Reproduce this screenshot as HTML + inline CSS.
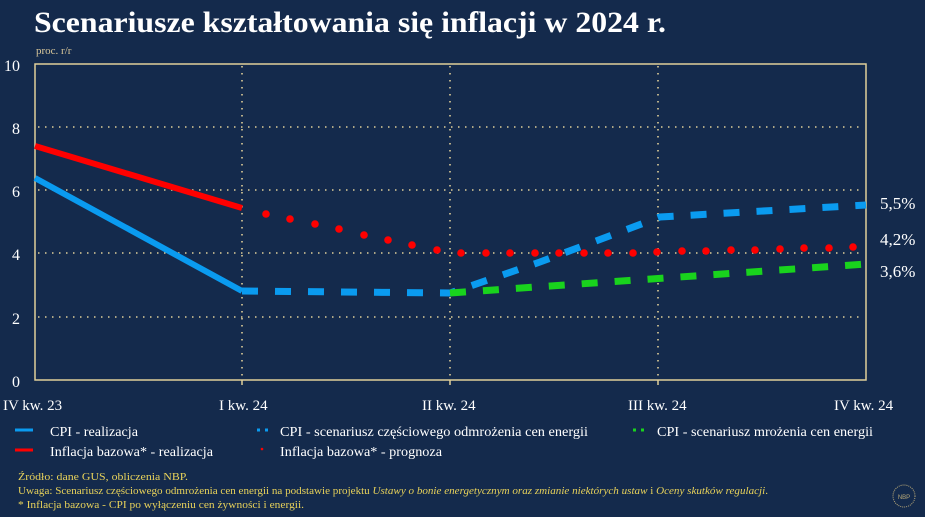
<!DOCTYPE html>
<html><head><meta charset="utf-8"><style>
body{margin:0;width:925px;height:517px;background:#142a4c;overflow:hidden;font-family:"Liberation Serif",serif;}
svg{position:absolute;left:0;top:0}
</style></head><body>
<svg width="925" height="517" xmlns="http://www.w3.org/2000/svg">
<text x="34" y="32" fill="#fff" font-size="30" font-weight="bold" font-family="Liberation Serif" textLength="632" lengthAdjust="spacingAndGlyphs">Scenariusze kształtowania się inflacji w 2024 r.</text>
<text x="36" y="54" fill="#d9c79a" font-size="11">proc. r/r</text>
<g fill="#fff" font-size="16" text-anchor="end">
<text x="20" y="71">10</text><text x="20" y="134">8</text><text x="20" y="197">6</text><text x="20" y="260">4</text><text x="20" y="324">2</text><text x="20" y="387">0</text>
</g>
<g stroke="#e0cf9a" stroke-width="1.6" stroke-dasharray="1.5 5.5" fill="none">
<line x1="38" y1="127" x2="864" y2="127"/><line x1="38" y1="190" x2="864" y2="190"/>
<line x1="38" y1="253" x2="864" y2="253"/><line x1="38" y1="317" x2="864" y2="317"/>
<line x1="242" y1="66" x2="242" y2="378"/><line x1="450" y1="66" x2="450" y2="378"/><line x1="658" y1="66" x2="658" y2="378"/>
</g>
<rect x="35" y="64" width="831" height="316" fill="none" stroke="#e0cf9a" stroke-width="1.5"/>
<g stroke="#e0cf9a" stroke-width="1.5"><line x1="242" y1="380" x2="242" y2="385"/><line x1="450" y1="380" x2="450" y2="385"/><line x1="658" y1="380" x2="658" y2="385"/></g>
<line x1="35" y1="146" x2="242" y2="208" stroke="#f00" stroke-width="6"/>
<line x1="35" y1="178" x2="242" y2="291" stroke="#0a9bf0" stroke-width="6"/>
<polyline points="242,291 450,293 540,262 660,217 866,205" fill="none" stroke="#0a9bf0" stroke-width="7" stroke-dasharray="16 17"/>
<line x1="450" y1="293" x2="866" y2="264" stroke="#19d31d" stroke-width="7" stroke-dasharray="16 17"/>
<g fill="#f00">
<circle cx="266" cy="214" r="3.8"/><circle cx="290" cy="219" r="3.8"/><circle cx="315" cy="224" r="3.8"/><circle cx="339" cy="229" r="3.8"/><circle cx="364" cy="235" r="3.8"/><circle cx="388" cy="240" r="3.8"/><circle cx="412" cy="245" r="3.8"/><circle cx="437" cy="250" r="3.8"/><circle cx="461" cy="253" r="3.8"/><circle cx="486" cy="253" r="3.8"/><circle cx="510" cy="253" r="3.8"/><circle cx="535" cy="253" r="3.8"/><circle cx="559" cy="253" r="3.8"/><circle cx="584" cy="253" r="3.8"/><circle cx="608" cy="253" r="3.8"/><circle cx="633" cy="253" r="3.8"/><circle cx="657" cy="252" r="3.8"/><circle cx="682" cy="251" r="3.8"/><circle cx="706" cy="251" r="3.8"/><circle cx="731" cy="250" r="3.8"/><circle cx="755" cy="250" r="3.8"/><circle cx="780" cy="249" r="3.8"/><circle cx="804" cy="248" r="3.8"/><circle cx="829" cy="248" r="3.8"/><circle cx="853" cy="247" r="3.8"/>
</g>
<g fill="#fff" font-size="17">
<text x="880" y="209">5,5%</text><text x="880" y="245">4,2%</text><text x="880" y="277">3,6%</text>
</g>
<g fill="#fff" font-size="15">
<text x="3" y="410">IV kw. 23</text><text x="219" y="410">I kw. 24</text><text x="422" y="410">II kw. 24</text><text x="628" y="410">III kw. 24</text><text x="834" y="410">IV kw. 24</text>
</g>
<line x1="15" y1="430" x2="33" y2="430" stroke="#0a9bf0" stroke-width="3"/>
<line x1="15" y1="450" x2="33" y2="450" stroke="#f00" stroke-width="3"/>
<line x1="257" y1="430" x2="260" y2="430" stroke="#0a9bf0" stroke-width="3"/><line x1="265" y1="430" x2="268" y2="430" stroke="#0a9bf0" stroke-width="3"/>
<circle cx="262" cy="449" r="1.3" fill="#f00"/>
<line x1="633" y1="430" x2="636" y2="430" stroke="#19d31d" stroke-width="3"/><line x1="641" y1="430" x2="644" y2="430" stroke="#19d31d" stroke-width="3"/>
<g fill="#fff" font-size="14">
<text x="50" y="436" textLength="88" lengthAdjust="spacingAndGlyphs">CPI - realizacja</text><text x="50" y="456" textLength="163" lengthAdjust="spacingAndGlyphs">Inflacja bazowa* - realizacja</text>
<text x="280" y="436" textLength="308" lengthAdjust="spacingAndGlyphs">CPI - scenariusz częściowego odmrożenia cen energii</text><text x="280" y="456" textLength="162" lengthAdjust="spacingAndGlyphs">Inflacja bazowa* - prognoza</text>
<text x="657" y="436" textLength="216" lengthAdjust="spacingAndGlyphs">CPI - scenariusz mrożenia cen energii</text>
</g>
<g fill="#e8d25a" font-size="10">
<text x="18" y="480" textLength="170" lengthAdjust="spacingAndGlyphs">Źródło: dane GUS, obliczenia NBP.</text>
<text x="18" y="494" textLength="750" lengthAdjust="spacingAndGlyphs">Uwaga: Scenariusz częściowego odmrożenia cen energii na podstawie projektu <tspan font-style="italic">Ustawy o bonie energetycznym oraz zmianie niektórych ustaw</tspan> i <tspan font-style="italic">Oceny skutków regulacji</tspan>.</text>
<text x="18" y="508" textLength="286" lengthAdjust="spacingAndGlyphs">* Inflacja bazowa - CPI po wyłączeniu cen żywności i energii.</text>
</g>
<circle cx="904" cy="496" r="11" fill="none" stroke="#b8a878" stroke-width="1" stroke-dasharray="1 1"/>
<text x="904" y="499" fill="#b8a878" font-size="6" text-anchor="middle" font-family="Liberation Sans">NBP</text>
</svg>
</body></html>
